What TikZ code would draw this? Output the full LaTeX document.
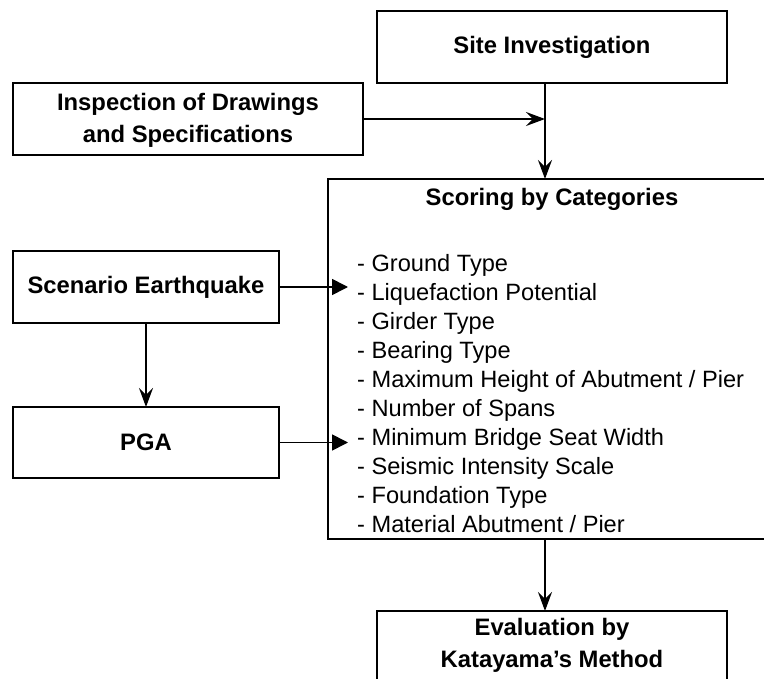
\documentclass[tikz,border=0pt]{standalone}
\usepackage{fontspec}
\setmainfont{Liberation Sans}
\usetikzlibrary{arrows.meta}
\begin{document}
\begin{tikzpicture}[x=1pt,y=-1pt,
  box/.style={draw, line width=1.9pt, inner sep=0pt, outer sep=0pt},
  ttl/.style={font=\fontsize{23.8}{32}\selectfont\bfseries, align=center, inner sep=0pt},
  item/.style={font=\fontsize{23.6}{29}\selectfont, anchor=base west, inner sep=0pt},
  conn/.style={line width=1.7pt},
  stl/.style={-{Stealth[length=19pt,width=14pt,inset=7pt]}},
  tri/.style={-{Triangle[length=16pt,width=16pt]}}]
\useasboundingbox (0,0) rectangle (764,679);
\clip (0,0) rectangle (764,679);
\fill[white] (0,0) rectangle (764,679);
% boxes
\node[box, minimum width=350pt, minimum height=72pt] (site) at (552,47) {};
\node[ttl] (sitet) at (552,47) {Site Investigation};
\node[box, minimum width=350pt, minimum height=72pt] (insp) at (188,119) {};
\node[ttl] (inspt) at (188,120) {Inspection of Drawings\\and Specifications};
\node[box, minimum width=448pt, minimum height=360pt] (score) at (552,359) {};
\node[ttl] (scoret) at (552,199) {Scoring by Categories};
\node[box, minimum width=266pt, minimum height=72pt] (scen) at (146,287) {};
\node[ttl] (scent) at (146,287) {Scenario Earthquake};
\node[box, minimum width=266pt, minimum height=71pt] (pga) at (146,442.5) {};
\node[ttl] (pgat) at (146,442.5) {PGA};
\node[box, minimum width=350pt, minimum height=90pt] (eval) at (552,656) {};
\node[ttl] (evalt) at (552,645) {Evaluation by\\Katayama’s Method};
% list
\node[item] (l1) at (357,271.5) {- Ground Type};
\node[item] (l2) at (357,300.5) {- Liquefaction Potential};
\node[item] (l3) at (357,329.5) {- Girder Type};
\node[item] (l4) at (357,358.5) {- Bearing Type};
\node[item] (l5) at (357,387.5) {- Maximum Height of Abutment / Pier};
\node[item] (l6) at (357,416.5) {- Number of Spans};
\node[item] (l7) at (357,445.5) {- Minimum Bridge Seat Width};
\node[item] (l8) at (357,474.5) {- Seismic Intensity Scale};
\node[item] (l9) at (357,503.5) {- Foundation Type};
\node[item] (l10) at (357,532.5) {- Material Abutment / Pier};
% connectors
\coordinate (ax) at (545,0);
\coordinate (tx) at (348,0);
\draw[conn,stl] (site.south -| ax) -- (score.north -| ax);
\draw[conn,stl] (insp.east) -- (insp.east -| ax);
\draw[conn,tri] (scen.east) -- (scen.east -| tx);
\draw[conn,tri] (pga.east) -- (pga.east -| tx);
\draw[conn,stl] (scen.south) -- (pga.north);
\draw[conn,stl] (score.south -| ax) -- (eval.north -| ax);
\end{tikzpicture}
\end{document}
